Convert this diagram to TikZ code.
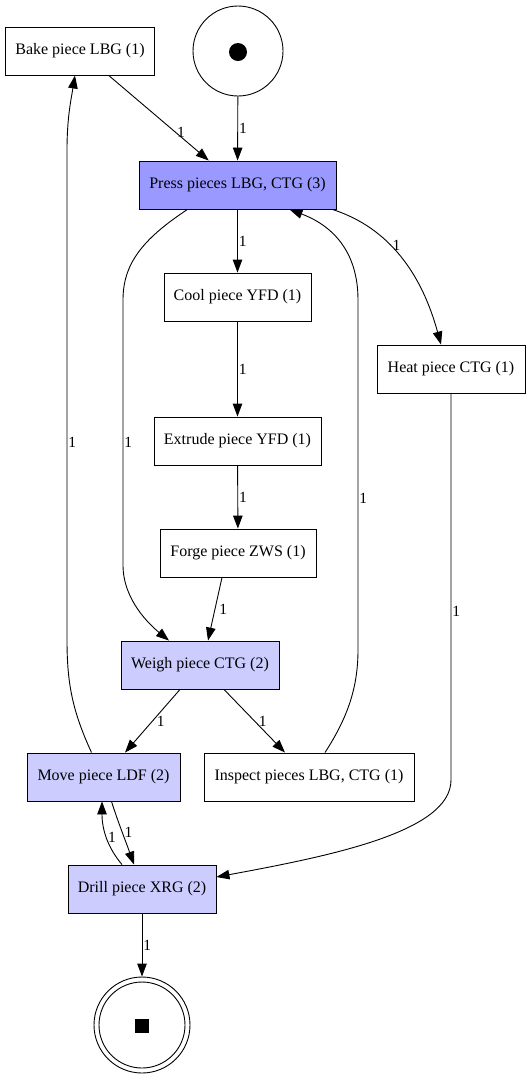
\documentclass[tikz,border=0pt]{standalone}
\usepackage{fontspec}
\setmainfont{Liberation Serif}
\usetikzlibrary{arrows.meta,positioning}
\definecolor{pressfill}{RGB}{153,153,255}
\definecolor{lightfill}{RGB}{204,204,255}
\begin{document}
\begin{tikzpicture}[x=1pt,y=-1pt,
  trans/.style={draw=black, line width=0.9pt, minimum height=48pt, inner sep=0pt, font=\fontsize{16}{18}\selectfont},
  place/.style={draw=black, line width=0.9pt, circle, inner sep=0pt},
  arc/.style={draw=black, line width=0.9pt, -{Triangle[length=13pt,width=9.5pt]}},
  lbl/.style={font=\fontsize{15.5}{17}\selectfont, inner sep=1pt}]
\useasboundingbox (0,0) rectangle (530,1080);
% places
\node[place, minimum size=90pt] (start) at (238,51) {};
\node[circle, fill=black, minimum size=18pt, inner sep=0pt] (tok) at (238,52) {};
\node[place, minimum size=96pt] (endo) at (142,1025) {};
\node[place, minimum size=86pt] (endi) at (142,1025) {};
\node[fill=black, minimum size=14pt, inner sep=0pt] (sq) at (142,1026) {};
% transitions
\node[trans, minimum width=149pt] (bake) at (80,51) {Bake piece LBG (1)};
\node[trans, minimum width=197pt, fill=pressfill] (press) at (237.5,185) {Press pieces LBG, CTG (3)};
\node[trans, minimum width=147pt] (cool) at (237.5,297) {Cool piece YFD (1)};
\node[trans, minimum width=148pt] (heat) at (451,369) {Heat piece CTG (1)};
\node[trans, minimum width=167pt] (extrude) at (237.5,441) {Extrude piece YFD (1)};
\node[trans, minimum width=156pt] (forge) at (238,553) {Forge piece ZWS (1)};
\node[trans, minimum width=158pt, fill=lightfill] (weigh) at (200,665) {Weigh piece CTG (2)};
\node[trans, minimum width=153pt, fill=lightfill] (move) at (103.5,777) {Move piece LDF (2)};
\node[trans, minimum width=210pt] (inspect) at (309,777) {Inspect pieces LBG, CTG (1)};
\node[trans, minimum width=148pt, fill=lightfill] (drill) at (142,889) {Drill piece XRG (2)};
% arcs
\draw[arc] (start) -- node[lbl, right=0pt, pos=0.5] {1} (press);
\draw[arc] (bake) -- node[lbl, pos=0.7, above right=-4pt and -3pt] {1} (press);
\draw[arc] (press) -- node[lbl, right=0pt] {1} (cool);
\draw[arc] (cool) -- node[lbl, right=0pt] {1} (extrude);
\draw[arc] (extrude) -- node[lbl, right=0pt] {1} (forge);
\draw[arc] ([xshift=-16pt]forge.south) -- node[lbl, right=3pt] {1} ([xshift=8pt]weigh.north);
\draw[arc] ([xshift=-50pt]press.south) .. controls (141,240) and (123,265) .. (123,300)
   -- node[lbl, right=0pt, pos=0.536] {1} (123,565) .. controls (123,600) and (150,625) .. ([xshift=-31pt]weigh.north);
\draw[arc] ([xshift=16pt]inspect.north) .. controls (346,720) and (358,690) .. (358,650)
   -- node[lbl, right=0pt, pos=0.434] {1} (358,300) .. controls (358,250) and (331,225) .. ([xshift=52pt]press.south);
\draw[arc] ([xshift=-4pt]press.south east) .. controls (390,228) and (422,275) .. node[lbl, pos=0.4, right=1pt] {1} ([xshift=-10pt]heat.north);
\draw[arc] (heat.south) -- node[lbl, right=0pt, pos=0.563] {1} (451,780) .. controls (451,832) and (330,856) .. ([yshift=12pt]drill.east);
\draw[arc] ([xshift=-20pt]weigh.south) -- node[lbl, right=3pt] {1} ([xshift=21.5pt]move.north);
\draw[arc] ([xshift=24pt]weigh.south) -- node[lbl, right=3pt] {1} ([xshift=-24pt]inspect.north);
\draw[arc] ([xshift=-12pt]move.north) .. controls (73,712) and (67,685) .. (67,640)
   -- node[lbl, right=0pt, pos=0.404] {1} (67,150) .. controls (67,118) and (71,100) .. ([xshift=-5pt]bake.south);
\draw[arc] ([xshift=-20pt]drill.north) .. controls (108,848) and (102,830) .. node[lbl, pos=0.5, right=0pt] {1} ([xshift=-1.5pt]move.south);
\draw[arc] ([xshift=8pt]move.south) .. controls (118,822) and (126,842) .. node[lbl, pos=0.5, right=1pt] {1} ([xshift=-8pt]drill.north);
\draw[arc] (drill) -- node[lbl, right=0pt] {1} (endo);
\end{tikzpicture}
\end{document}
